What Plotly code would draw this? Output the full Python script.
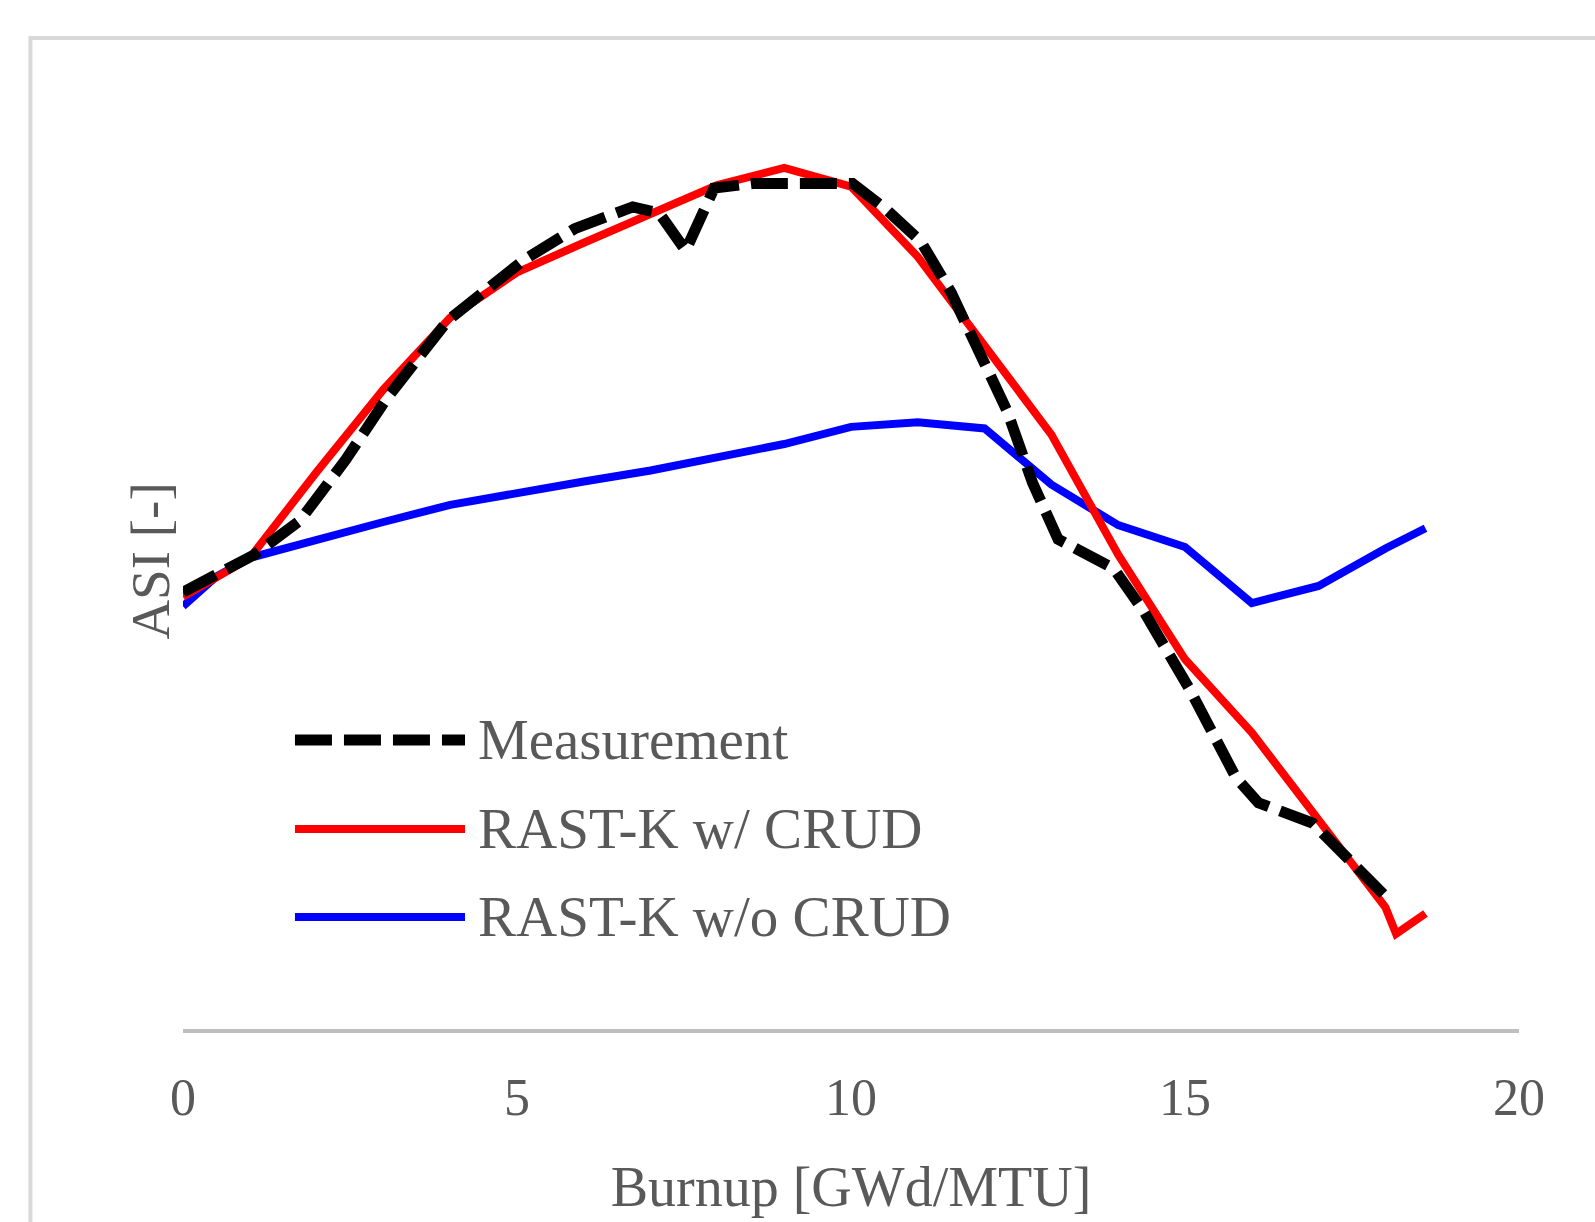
import plotly.graph_objects as go

# ---------------- data ----------------
meas_x = [0.0, 1.066, 1.752, 2.437, 3.046, 3.960, 5.103, 5.864, 6.733, 7.129, 7.525,
          7.951, 8.530, 9.444, 10.023, 10.510, 11.043, 11.500, 12.033, 12.338, 12.719,
          13.100, 13.938, 14.394, 15.080, 15.765, 16.100, 16.908, 18.050]
meas_y = [-0.120, -0.096, -0.074, -0.035, 0.004, 0.054, 0.093, 0.113, 0.127, 0.123, 0.099,
          0.139, 0.142, 0.143, 0.142, 0.126, 0.105, 0.072, 0.026, -0.004, -0.050,
          -0.086, -0.105, -0.133, -0.183, -0.239, -0.255, -0.268, -0.317]

crud_x = [0, 1, 2, 3, 4, 5, 6, 7, 8, 9, 10, 11, 12, 13, 14, 15, 16, 17, 18, 18.16, 18.6]
crud_y = [-0.123, -0.098, -0.043, 0.010, 0.056, 0.085, 0.104, 0.123, 0.141, 0.152, 0.140,
          0.095, 0.039, -0.019, -0.096, -0.163, -0.210, -0.266, -0.322, -0.339, -0.326]

nocrud_x = [0, 0.5, 1, 2, 3, 4, 5, 6, 7, 8, 9, 10, 11, 12, 13, 14, 15, 16, 17, 18, 18.6]
nocrud_y = [-0.129, -0.110, -0.098, -0.086, -0.075, -0.064, -0.056, -0.049, -0.042, -0.034,
            -0.025, -0.014, -0.011, -0.015, -0.051, -0.077, -0.091, -0.127, -0.116, -0.092, -0.079]

series_names = ["Measurement", "RAST-K w/ CRUD", "RAST-K w/o CRUD"]
x_ticks = [0, 5, 10, 15, 20]
x_title = "Burnup [GWd/MTU]"
y_title = "ASI [-]"

FONT = "Liberation Serif, Times New Roman, serif"
TXT = "#595959"

styles = [
    dict(color="black", width=11, dash="37px,12px"),
    dict(color="#ff0000", width=8, dash="solid"),
    dict(color="#0000ff", width=8, dash="solid"),
]

traces = []
for (xs, ys), name, st in zip([(meas_x, meas_y), (crud_x, crud_y), (nocrud_x, nocrud_y)],
                              series_names, styles):
    traces.append(go.Scatter(x=xs, y=ys, mode="lines", name=name, showlegend=False,
                             line=dict(color=st["color"], width=st["width"], dash=st["dash"])))

# draw order: blue, red, then measurement on top
fig = go.Figure(data=[traces[2], traces[1], traces[0]])

shapes = []
annotations = []
# outer chart border
shapes.append(dict(type="rect", xref="paper", yref="paper", x0=-0.1142, x1=1.3, y0=-0.4, y1=1.0588,
                   line=dict(color="#d9d9d9", width=4), fillcolor="rgba(0,0,0,0)", layer="below"))

# manual legend
leg_y = [0.3088, 0.2137, 0.1197]
for name, st, ly in zip(series_names, styles, leg_y):
    shapes.append(dict(type="line", xref="paper", yref="paper", x0=0.0838, x1=0.2111, y0=ly, y1=ly,
                       line=dict(color=st["color"], width=st["width"], dash=st["dash"])))
    annotations.append(dict(xref="paper", yref="paper", x=0.2195, y=ly, text=name, showarrow=False,
                            xanchor="left", yanchor="middle", font=dict(family=FONT, size=57, color=TXT)))

annotations.append(dict(xref="paper", yref="paper", x=-0.025, y=0.5, text=y_title, showarrow=False,
                        textangle=-90, xanchor="center", yanchor="middle",
                        font=dict(family=FONT, size=55, color=TXT)))

fig.update_layout(
    width=1595, height=1222,
    margin=dict(l=183, r=76, t=93, b=193, autoexpand=False),
    paper_bgcolor="white", plot_bgcolor="white",
    showlegend=False,
    shapes=shapes, annotations=annotations,
    font=dict(family=FONT, color=TXT),
    xaxis=dict(range=[0, 20], tickvals=x_ticks, ticktext=[str(v) for v in x_ticks],
               showgrid=False, zeroline=False, showline=True, linecolor="#bfbfbf", linewidth=4,
               ticks="", ticklabelstandoff=20, tickfont=dict(family=FONT, size=52, color=TXT),
               title=dict(text=x_title, font=dict(family=FONT, size=56, color=TXT), standoff=42)),
    yaxis=dict(range=[-0.4, 0.2], showticklabels=False, showgrid=False, zeroline=False,
               showline=False, ticks=""),
)

fig.write_html("out.html")
